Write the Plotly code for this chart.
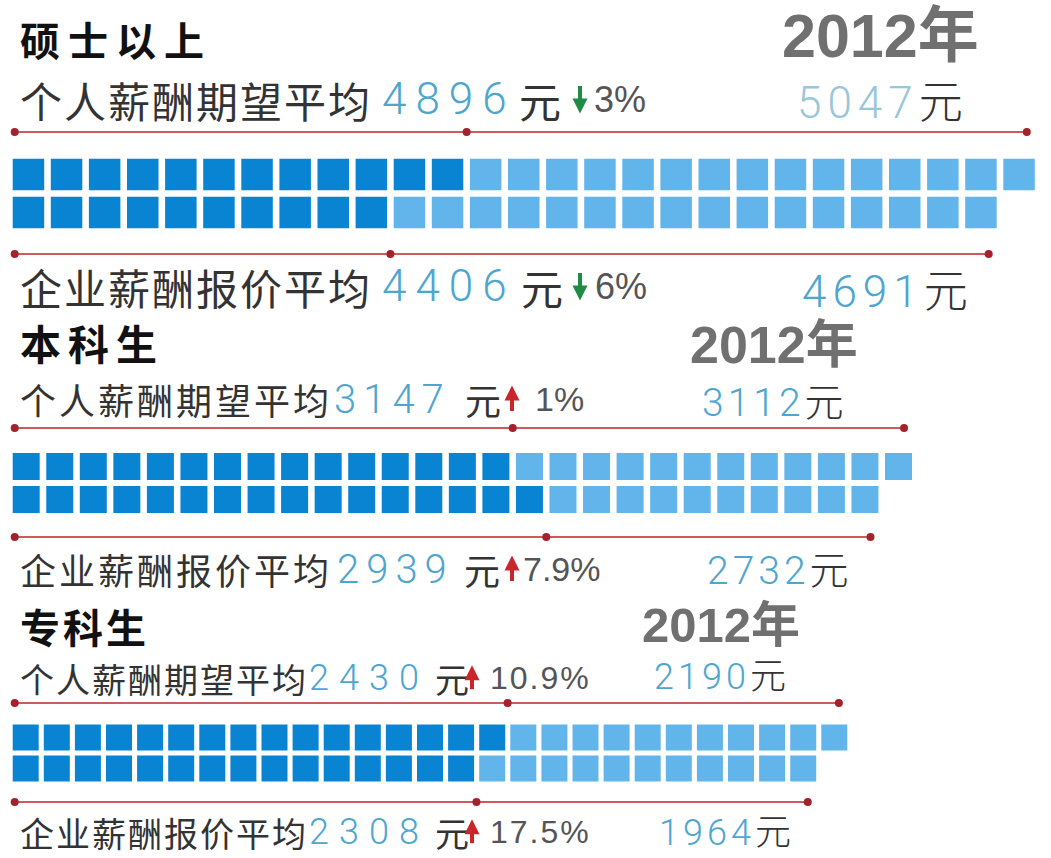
import plotly.graph_objects as go

# ---------------- data ----------------
categories = ["硕士以上", "本科生", "专科生"]
year_label = "2012年"
expect_label = "个人薪酬期望平均"
offer_label = "企业薪酬报价平均"
unit = "元"
expect_2013 = [4896, 3147, 2430]
expect_2012 = [5047, 3112, 2190]
offer_2013 = [4406, 2939, 2308]
offer_2012 = [4691, 2732, 1964]
expect_change = ["3%", "1%", "10.9%"]
offer_change = ["6%", "7.9%", "17.5%"]
expect_dir = ["down", "up", "up"]
offer_dir = ["down", "up", "up"]
expect_dark_blocks = [12, 15, 16]
expect_total_blocks = [27, 27, 27]
offer_dark_blocks = [10, 16, 15]
offer_total_blocks = [26, 26, 26]

# ---------------- layout / style ----------------
W, H = 1051, 858
DARK = "#0984d2"
LIGHT = "#62b5ea"
LINE = "#cc5c5c"
DOT = "#a3222b"
NUM = "#4ea6cf"
TXT = "#333333"
PCT = "#555555"
GREEN = "#1e8c45"
RED = "#c8262b"
CJK = "Noto Sans CJK SC"
LAT = "Liberation Sans, Noto Sans CJK SC"
THIN = "Roboto, Noto Sans CJK SC"

geo = [
    dict(x0=12.7, period=38.1, side=31.5, gap=6.6, rows=(174.5, 212.5), lines=(132, 254),
         title_y=39, title_size=40, title_sp=8,
         year_x=780, year_y=36, year_size=61,
         ty=(99, 286), lab_size=42, lab_sp=2,
         num_x=(380, 380), num_size=44, num_sp=9, yuan_x=(517, 519),
         arr_x=(580, 580), pct_x=(592, 593), pct_size=36, pct_sp=0,
         old_x=(795, 800), old_y=(99, 288), old_size=44, old_sp=6),
    dict(x0=12.7, period=33.55, side=27, gap=6.5, rows=(466.5, 499.5), lines=(428, 537),
         title_y=342, title_size=41, title_sp=7,
         year_x=688, year_y=345, year_size=52,
         ty=(399, 569), lab_size=36, lab_sp=3,
         num_x=(332, 335), num_size=40, num_sp=7, yuan_x=(463, 462),
         arr_x=(512, 512), pct_x=(533, 521), pct_size=34, pct_sp=0,
         old_x=(700, 705), old_y=(399, 567), old_size=39, old_sp=4),
    dict(x0=12.7, period=31.1, side=26, gap=5.5, rows=(737.5, 768.5), lines=(703, 802),
         title_y=626, title_size=40, title_sp=3,
         year_x=640, year_y=625, year_size=49,
         ty=(678, 832), lab_size=34, lab_sp=2,
         num_x=(307, 307), num_size=36, num_sp=10, yuan_x=(433, 433),
         arr_x=(472, 472), pct_x=(488, 488), pct_size=32, pct_sp=2,
         old_x=(652, 657), old_y=(673, 829), old_size=36, old_sp=4),
]

fig = go.Figure()
annotations = []


def txt(x, y, s, size, color, family=CJK, weight="normal", sp=0, anchor="left"):
    if sp:
        s = f'<span style="letter-spacing:{sp}px">{s}</span>'
    annotations.append(dict(x=x, y=y, xref="x", yref="y", text=s, showarrow=False,
                            xanchor=anchor, yanchor="middle",
                            font=dict(size=size, color=color, family=family, weight=weight)))


def arrow(x, ycen, direction, size):
    half = size * 0.40
    if direction == "down":
        head, tail = ycen + half, -2 * half
        col = GREEN
    else:
        head, tail = ycen - half, 2 * half
        col = RED
    annotations.append(dict(x=x, y=head, xref="x", yref="y", text="", showarrow=True,
                            ax=0, ay=tail, arrowhead=2, arrowsize=0.75, arrowwidth=4,
                            arrowcolor=col, standoff=0))


for i, cat in enumerate(categories):
    g = geo[i]
    rows = [
        (expect_dark_blocks[i], expect_total_blocks[i], g["rows"][0]),
        (offer_dark_blocks[i], offer_total_blocks[i], g["rows"][1]),
    ]
    for dark, total, ry in rows:
        xs = [g["x0"] + k * g["period"] + g["side"] / 2 for k in range(total)]
        for sel, col in ((xs[:dark], DARK), (xs[dark:], LIGHT)):
            fig.add_trace(go.Scatter(
                x=sel, y=[ry] * len(sel), mode="markers", hoverinfo="skip",
                marker=dict(symbol="square", size=g["side"], color=col,
                            line=dict(width=0))))
    # measurement lines
    for (dark, total, _), ly in zip(rows, g["lines"]):
        left = g["x0"] + 2
        mid = g["x0"] + dark * g["period"] - g["gap"] / 2
        right = g["x0"] + total * g["period"] - g["gap"] - 8
        fig.add_trace(go.Scatter(
            x=[left, mid, right], y=[ly] * 3, mode="lines+markers", hoverinfo="skip",
            line=dict(color=LINE, width=2),
            marker=dict(size=8, color=DOT)))

    # texts
    txt(18, g["title_y"], f"<b>{cat}</b>", g["title_size"], "#111111", CJK, "bold", g["title_sp"])
    txt(g["year_x"], g["year_y"], f"<b>{year_label}</b>", g["year_size"], "#707070", LAT, "bold")
    for j, (lab, v13, v12, chg, d) in enumerate((
            (expect_label, expect_2013[i], expect_2012[i], expect_change[i], expect_dir[i]),
            (offer_label, offer_2013[i], offer_2012[i], offer_change[i], offer_dir[i]))):
        y = g["ty"][j]
        txt(18, y, lab, g["lab_size"], TXT, CJK, "normal", g["lab_sp"])
        txt(g["num_x"][j], y, str(v13), g["num_size"], NUM, THIN, 300, g["num_sp"])
        txt(g["yuan_x"][j], y, unit, g["lab_size"], TXT, CJK)
        arrow(g["arr_x"][j], y, d, g["pct_size"])
        txt(g["pct_x"][j], y, chg, g["pct_size"], PCT, LAT, "normal", g["pct_sp"])
        old_col = "#98c6da" if (i == 0 and j == 0) else NUM
        txt(g["old_x"][j], g["old_y"][j],
            f'<span style="letter-spacing:{g["old_sp"]}px">{v12}</span>'
            f'<span style="font-family:{CJK};fill:{TXT}">{unit}</span>',
            g["old_size"], old_col, THIN, 300)

fig.update_layout(
    width=W, height=H, autosize=False,
    margin=dict(l=0, r=0, t=0, b=0),
    paper_bgcolor="white", plot_bgcolor="white",
    showlegend=False,
    xaxis=dict(range=[0, W], visible=False, fixedrange=True),
    yaxis=dict(range=[H, 0], visible=False, fixedrange=True),
    annotations=annotations,
)

fig.write_html("out.html", config={"displayModeBar": False},
               post_script="document.body.style.margin='0';")
